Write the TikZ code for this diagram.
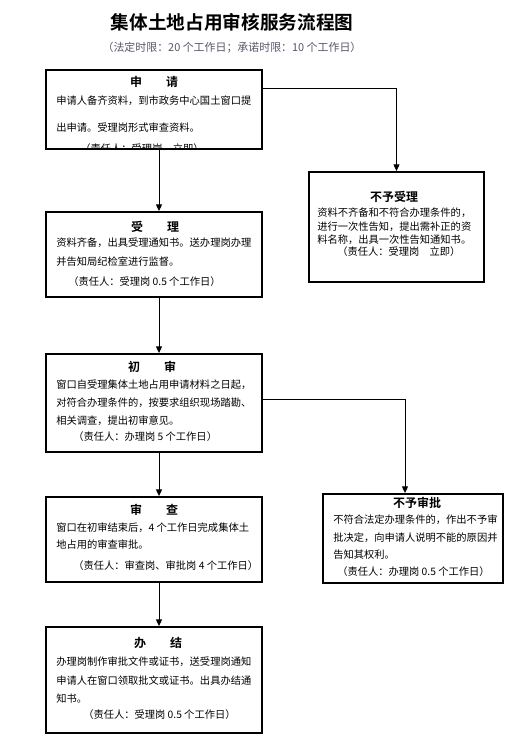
\documentclass[tikz,border=0pt]{standalone}
\usepackage{fontspec}
\setmainfont{Noto Sans CJK SC}[BoldFont={Noto Sans CJK SC Bold}]
\usetikzlibrary{arrows.meta,fit}
\definecolor{subgray}{RGB}{85,85,105}

\tikzset{
  flowbox/.style={draw, line width=1.4pt, inner sep=0pt},
  boxhead/.style={anchor=base, inner sep=0pt, font=\bfseries\fontsize{9}{11}\selectfont},
  boxtext/.style={anchor=base west, inner sep=0pt, align=left},
  dutytext/.style={anchor=base west, inner sep=0pt},
  flowarrow/.style={-{Triangle[length=5pt,width=4.5pt]}, line width=0.7pt}
}

\begin{document}
\begin{tikzpicture}[x=0.75pt, y=-0.75pt, font=\fontsize{7.7}{9}\selectfont]
\useasboundingbox (0,0) rectangle (528,750);
% title
\node[font=\bfseries\fontsize{14}{16}\selectfont] (title) at (232,22) {集体土地占用审核服务流程图};
\node[text=subgray, font=\fontsize{8.2}{9}\selectfont] (limit) at (232,48) {（法定时限：20 个工作日；承诺时限：10 个工作日）};

% boxes
\node[flowbox, fit={(46,70) (262,149)}] (apply) {};
\node[flowbox, fit={(46,212) (262,297)}] (accept) {};
\node[flowbox, fit={(46,354) (262,452)}] (review) {};
\node[flowbox, fit={(46,497) (262,582)}] (examine) {};
\node[flowbox, fit={(46,627) (262,733)}] (finish) {};
\node[flowbox, fit={(309,172) (484,282)}] (noaccept) {};
\node[flowbox, fit={(323,494) (503,583)}] (noapprove) {};

% 申请 (text anchored at its last line)
\node[boxhead] (apply-head) at (154,86.5) {申　　请};
\node[boxtext, font=\fontsize{7.7}{20.25}\selectfont] (apply-text) at (56,131.9)
  {申请人备齐资料，到市政务中心国土窗口提\\出申请。受理岗形式审查资料。};
\begin{scope}
  \clip (apply.north west) rectangle (apply.south east);
  \node[anchor=base, inner sep=0pt] (apply-duty) at (142,152) {（责任人：受理岗　立即）};
\end{scope}

% 受理
\node[boxhead] (accept-head) at (155,231.5) {受　　理};
\node[boxtext, font=\fontsize{7.7}{14.25}\selectfont] (accept-text) at (56,265.9)
  {资料齐备，出具受理通知书。送办理岗办理\\并告知局纪检室进行监督。};
\node[dutytext] (accept-duty) at (68,285.9) {（责任人：受理岗 0.5 个工作日）};

% 初审
\node[boxhead] (review-head) at (152,371.5) {初　　审};
\node[boxtext, font=\fontsize{7.7}{13.5}\selectfont] (review-text) at (56,424.9)
  {窗口自受理集体土地占用申请材料之日起，\\对符合办理条件的，按要求组织现场踏勘、\\相关调查，提出初审意见。};
\node[dutytext] (review-duty) at (73,440.9) {（责任人：办理岗 5 个工作日）};

% 审查
\node[boxhead] (examine-head) at (154,514.5) {审　　查};
\node[boxtext, font=\fontsize{7.7}{12.75}\selectfont] (examine-text) at (56,548.9)
  {窗口在初审结束后，4 个工作日完成集体土\\地占用的审查审批。};
\node[dutytext] (examine-duty) at (73,569.9) {（责任人：审查岗、审批岗 4 个工作日）};

% 办结
\node[boxhead] (finish-head) at (158,647.5) {办　　结};
\node[boxtext, font=\fontsize{7.7}{13.9}\selectfont] (finish-text) at (56,702.9)
  {办理岗制作审批文件或证书，送受理岗通知\\申请人在窗口领取批文或证书。出具办结通\\知书。};
\node[dutytext] (finish-duty) at (83,718.9) {（责任人：受理岗 0.5 个工作日）};

% 不予受理
\node[boxhead] (noaccept-head) at (394,201.5) {不予受理};
\node[boxtext, font=\fontsize{7.7}{10.1}\selectfont] (noaccept-text) at (317,243.9)
  {资料不齐备和不符合办理条件的，\\进行一次性告知，提出需补正的资\\料名称，出具一次性告知通知书。};
\node[dutytext] (noaccept-duty) at (337,255.9) {（责任人：受理岗　立即）};

% 不予审批
\node[boxhead] (noapprove-head) at (417,507.5) {不予审批};
\node[boxtext, font=\fontsize{7.7}{13.1}\selectfont] (noapprove-text) at (333,558.9)
  {不符合法定办理条件的，作出不予审\\批决定，向申请人说明不能的原因并\\告知其权利。};
\node[dutytext] (noapprove-duty) at (337,575.9) {（责任人：办理岗 0.5 个工作日）};

% connectors
\draw[flowarrow] ([xshift=3.75pt]apply.south) -- ([xshift=3.75pt]accept.north);
\draw[flowarrow] ([xshift=3.75pt]accept.south) -- ([xshift=3.75pt]review.north);
\draw[flowarrow] ([xshift=3.75pt]review.south) -- ([xshift=3.75pt]examine.north);
\draw[flowarrow] ([xshift=3.75pt]examine.south) -- ([xshift=3.75pt]finish.north);
\draw[flowarrow] ([yshift=16pt]apply.east) -| (noaccept.north);
\draw[flowarrow] ([yshift=3pt]review.east) -| ([xshift=-6pt]noapprove.north);
\end{tikzpicture}
\end{document}
